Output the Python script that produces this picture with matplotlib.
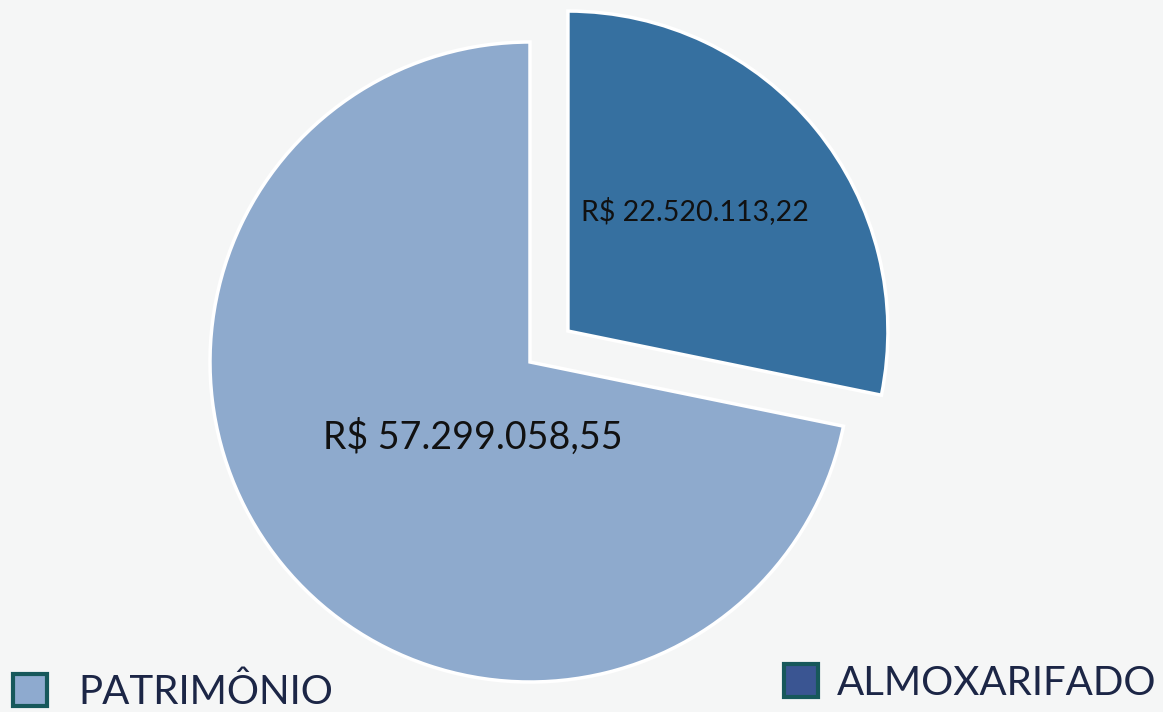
import matplotlib.pyplot as plt
from matplotlib.patches import Patch

# Values in R$
categories = ["ALMOXARIFADO", "PATRIMÔNIO"]
values = [22520113.22, 57299058.55]
slice_colors = ["#3670a0", "#8eaacd"]
legend_colors = ["#3a5592", "#8eaacf"]


def brl(v):
    s = f"{v:,.2f}"
    return "R$ " + s.replace(",", "X").replace(".", ",").replace("X", ".")


plt.rcParams["font.family"] = ["Lato", "DejaVu Sans"]

W, H = 1163, 712
fig = plt.figure(figsize=(W / 100, H / 100), dpi=100)
fig.patch.set_facecolor("#f5f6f6")
ax = fig.add_axes([0, 0, 1, 1])
ax.set_facecolor("#f5f6f6")

wedges, _ = ax.pie(values, colors=slice_colors, startangle=90,
                   counterclock=False, explode=[0.153, 0], radius=1.0,
                   wedgeprops=dict(edgecolor="white", linewidth=2.5))

# 1 data unit = pie radius (320 px); pie centre at pixel (530, 362)
R = 320.0
cx, cy = 530.0, 362.0
ax.set_xlim(-cx / R, (W - cx) / R)
ax.set_ylim(-(H - cy) / R, cy / R)
ax.set_aspect("equal")
ax.axis("off")

# value labels
ax.text(0.516, 0.472, brl(values[0]), ha="center", va="center",
        fontsize=20.5, color="#111111")
ax.text(-0.178, -0.234, brl(values[1]), ha="center", va="center",
        fontsize=27, color="#111111")

# one legend entry in each bottom corner
edge = "#17585b"
common = dict(frameon=False, fontsize=29, handlelength=0.85, handleheight=0.85,
              borderpad=0, borderaxespad=0, labelcolor="#1c2646",
              bbox_transform=fig.transFigure)
leg1 = ax.legend(handles=[Patch(facecolor=legend_colors[1], edgecolor=edge, linewidth=3)],
                 labels=[categories[1]], loc="center left",
                 bbox_to_anchor=(13 / W, 1 - 692 / H), handletextpad=0.78, **common)
ax.add_artist(leg1)
ax.legend(handles=[Patch(facecolor=legend_colors[0], edgecolor=edge, linewidth=3)],
          labels=[categories[0]], loc="center right",
          bbox_to_anchor=(1156 / W, 1 - 683 / H), handletextpad=0.45, **common)

fig.savefig("out.png", dpi=100, facecolor=fig.get_facecolor())
